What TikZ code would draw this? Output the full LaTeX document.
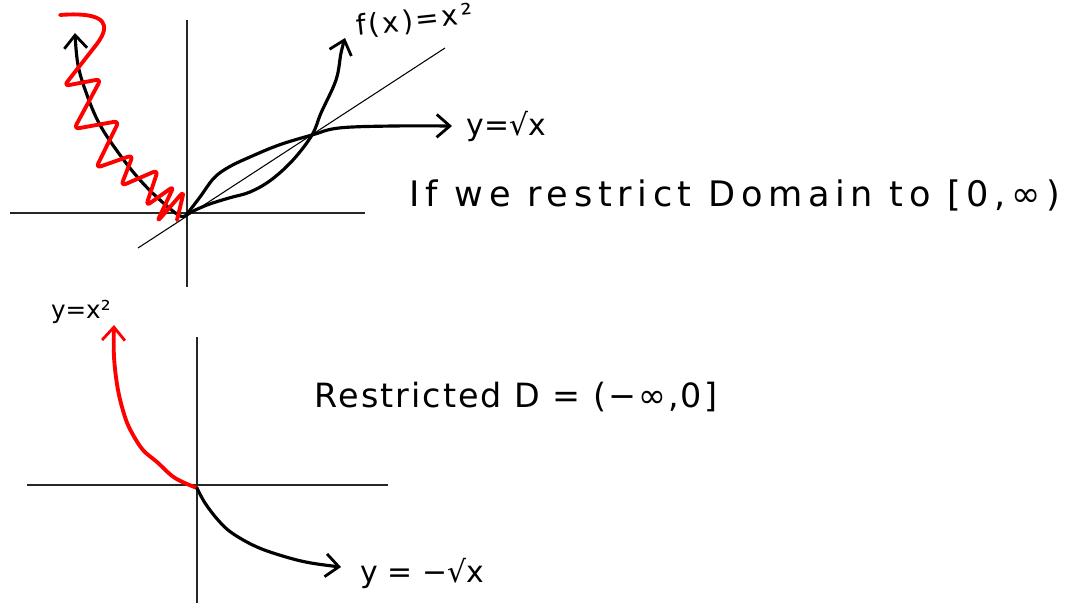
\documentclass[tikz,border=0pt]{standalone}
\usepackage{fontspec}
\setmainfont{DejaVu Sans}
\usetikzlibrary{arrows.meta,positioning,calc}

\tikzset{
    axis/.style={line width=0.8pt, black!85},
    curve/.style={line width=1.8pt, black, line cap=round, line join=round},
    redcurve/.style={line width=2.2pt, red, line cap=round, line join=round},
    tip/.style={-{Straight Barb[length=7.5pt,width=13pt,line width=1.6pt]}},
    hand/.style={inner sep=0pt, font=\fontsize{19}{22}\selectfont},
    smallhand/.style={inner sep=0pt, font=\fontsize{14}{16}\selectfont}
}

\begin{document}
\begin{tikzpicture}[x=0.02cm, y=0.02cm]

\useasboundingbox (0,0) rectangle (1070,603);

% Top graph: both branches and the line y=x
\begin{scope}[shift={(187,390)}]
    \draw[axis] (0,193) -- (0,-74);
    \draw[axis] (-177,0) -- (178,0);
    \draw[line width=0.6pt] (-49,-35) -- (258,165);
    \coordinate (O1) at (0,-1);
    \coordinate (P) at (125,78);
    % f(x)=x^2
    \draw[curve, tip] plot[smooth, tension=0.6] coordinates {(0,-1) (20,8) (42,15) (63,21) (84,33) (106,53) (125,78) (134,100) (149,133) (154,160) (158,175)};
    \coordinate (parend) at (158,175);
    % y=sqrt(x)
    \draw[curve, tip] plot[smooth, tension=0.6] coordinates {(0,-1) (13,16) (27,35) (42,46) (63,56) (92,68) (125,78) (152,85) (206,87) (265,87)};
    \coordinate (sqrtend) at (265,87);
    % left branch
    \draw[curve, tip] plot[smooth, tension=0.6] coordinates {(0,-1) (-7,-3) (-27,13) (-47,33) (-67,58) (-87,88) (-100,118) (-109,148) (-112,180)};
    % red scribble over it
    \draw[redcurve, rounded corners=3pt] (-127,198) .. controls (-88,201) and (-78,192) .. (-87,173)
        -- (-123,127) -- (-86,134) -- (-113,84) -- (-68,92) -- (-91,45) -- (-54,58)
        -- (-66,27) -- (-29,43) -- (-41,7) -- (-13,27) -- (-30,-9) -- (-3,22) -- (-10,-7);
\end{scope}

\node[smallhand, font=\fontsize{16}{18}\selectfont\addfontfeatures{LetterSpace=10}, rotate=6, anchor=base west] (fx) at ($(parend)+(12,2)$) {f(x)=x²};
\node[hand, font=\fontsize{17}{19}\selectfont, right=8pt of sqrtend] (ysqrt) {y=√x};
\node[hand, font=\fontsize{20}{22}\selectfont\addfontfeatures{LetterSpace=16}] (restrict1) at (735,408) {If we restrict Domain to [0,∞)};

% Bottom graph
\begin{scope}[shift={(197,118)}]
    \draw[axis] (0,148) -- (0,-118);
    \draw[axis] (-170,0) -- (191,0);
    \coordinate (O2) at (0,-2);
    \draw[redcurve, tip] plot[smooth, tension=0.6] coordinates {(0,-3) (-22,7) (-40,23) (-54,35) (-65,52) (-72,68) (-79,95) (-83,128) (-83,160)};
    \coordinate (redend) at (-83,160);
    \draw[curve, tip] plot[smooth, tension=0.6] coordinates {(0,-3) (8,-18) (21,-35) (35,-48) (60,-62) (89,-72) (114,-78) (144,-82)};
    \coordinate (negend) at (144,-82);
\end{scope}

\node[smallhand, anchor=base east] (ysq) at ($(redend)+(-3,7)$) {y=x²};
\node[hand, font=\fontsize{17}{19}\selectfont, anchor=base west] (yneg) at ($(negend)+(19,-15)$) {y = −√x};
\node[hand, font=\fontsize{19}{22}\selectfont\addfontfeatures{LetterSpace=6}] (restrict2) at (516,206) {Restricted D = (−∞,0]};

\end{tikzpicture}
\end{document}
